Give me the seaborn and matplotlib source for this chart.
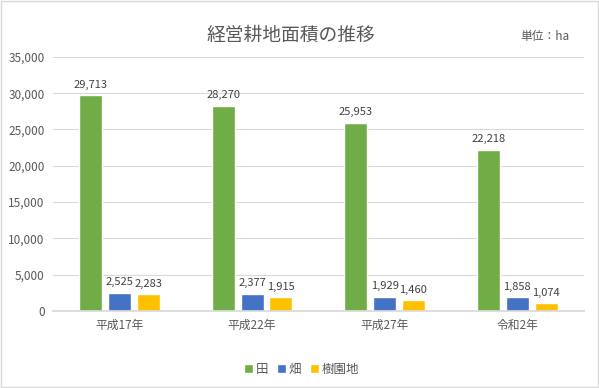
import matplotlib
matplotlib.use("Agg")
import matplotlib.pyplot as plt
import seaborn as sns
import pandas as pd
from matplotlib.ticker import FuncFormatter

# データ
years = ["平成17年", "平成22年", "平成27年", "令和2年"]
kinds = ["田", "畑", "樹園地"]
ta = [29713, 28270, 25953, 22218]
hatake = [2525, 2377, 1929, 1858]
juen = [2283, 1915, 1460, 1074]
colors = ["#70AD47", "#4472C4", "#FFC000"]

df = pd.DataFrame({
    "year": years * 3,
    "kind": [kinds[0]] * 4 + [kinds[1]] * 4 + [kinds[2]] * 4,
    "value": ta + hatake + juen,
})

sns.set_theme(style="white")
plt.rcParams['font.family'] = ['Noto Sans CJK JP', 'DejaVu Sans']
txt = "#595959"

fig = plt.figure(figsize=(5.99, 3.88), dpi=100)
ax = fig.add_axes([0.0885, 0.1985, 0.886, 0.655])

sns.barplot(data=df, x="year", y="value", hue="kind", order=years,
            hue_order=kinds, palette=colors, width=0.65, gap=0.2,
            saturation=1, ax=ax, legend=True)

for cont in ax.containers:
    ax.bar_label(cont, labels=[f"{v:,.0f}" for v in cont.datavalues],
                 padding=4, fontsize=8, color="#404040")

ax.set_ylim(0, 35000)
ax.set_yticks(range(0, 35001, 5000))
ax.yaxis.set_major_formatter(FuncFormatter(lambda v, p: f"{v:,.0f}"))
ax.yaxis.grid(True, color="#D9D9D9", linewidth=0.8)
ax.set_axisbelow(True)
for s in ["top", "right", "left"]:
    ax.spines[s].set_visible(False)
ax.spines["bottom"].set_color("#D9D9D9")
ax.tick_params(axis="both", length=0, labelsize=8.5, colors=txt, pad=6)
ax.set_xlabel("")
ax.set_ylabel("")

leg = ax.legend(loc="upper center", bbox_to_anchor=(0.468, -0.16), ncol=3,
                frameon=False, fontsize=9, handlelength=0.75,
                handleheight=0.75, handletextpad=0.2, columnspacing=0.7)
for t in leg.get_texts():
    t.set_color(txt)

fig.text(0.485, 0.91, "経営耕地面積の推移", ha="center", va="center",
         fontsize=13.5, color=txt)
fig.text(0.91, 0.905, "単位：ha", ha="center", va="center",
         fontsize=8.5, color=txt)

fig.patches.append(plt.Rectangle((0.002, 0.002), 0.996, 0.996,
                                 transform=fig.transFigure, fill=False,
                                 edgecolor="#D9D9D9", linewidth=1))

fig.savefig("out.png", dpi=100)
